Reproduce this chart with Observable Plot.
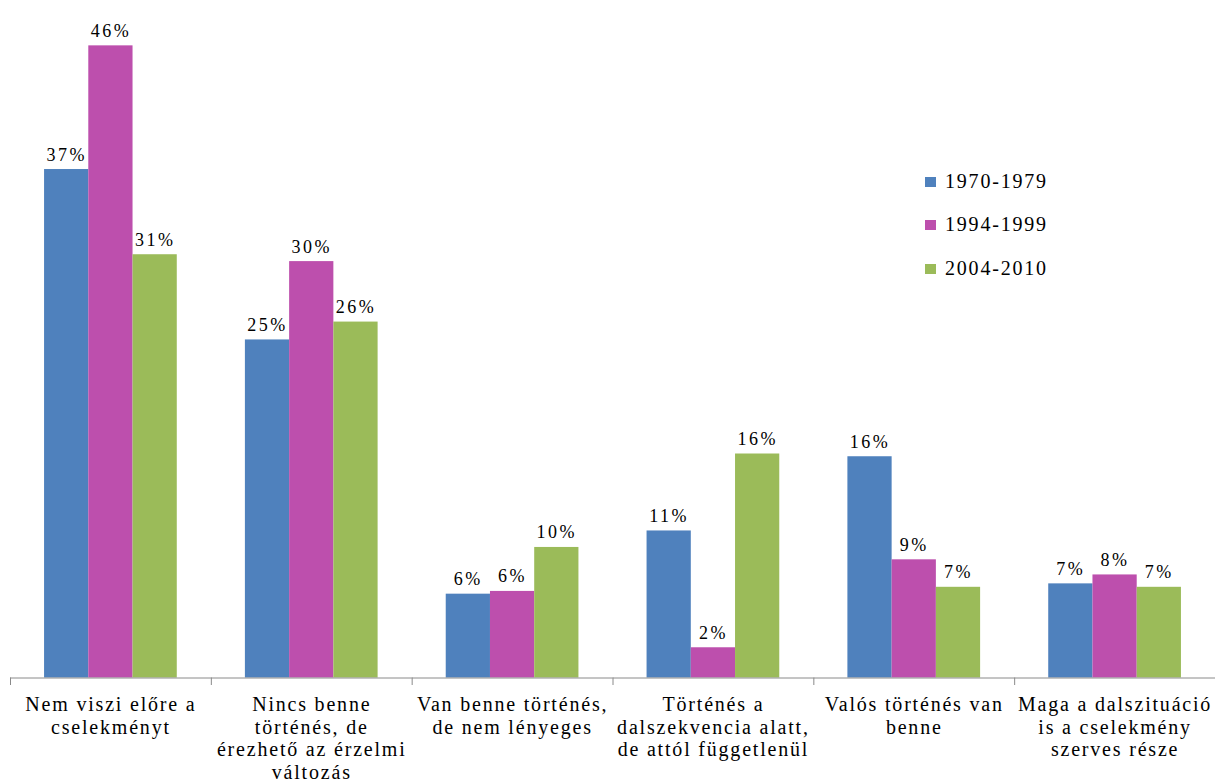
<!DOCTYPE html>
<html>
<head>
<meta charset="utf-8">
<script src="https://cdn.jsdelivr.net/npm/d3@7"></script>
<script src="https://cdn.jsdelivr.net/npm/@observablehq/plot@0.6"></script>
<style>
  html, body { margin: 0; padding: 0; background: #fff; }
  #wrap { position: relative; width: 1216px; height: 781px; overflow: hidden; }
  #wrap svg, #wrap svg text { font-family: "Liberation Serif", "Times New Roman", serif !important; }
  #legend { position: absolute; left: 925px; top: 160px; font-family: "Liberation Serif", "Times New Roman", serif; font-size: 20px; letter-spacing: 1.8px; color: #000; }
  #legend .row { height: 43.3px; line-height: 43.3px; white-space: nowrap; }
  #legend .sw { display: inline-block; width: 11px; height: 10px; margin-right: 9px; vertical-align: baseline; margin-bottom: 1px; }
</style>
</head>
<body>
<div id="wrap"></div>
<script>
const categories = ["c1", "c2", "c3", "c4", "c5", "c6"];
const categoryLabels = [
  "Nem viszi előre a\ncselekményt",
  "Nincs benne\ntörténés, de\nérezhető az érzelmi\nváltozás",
  "Van benne történés,\nde nem lényeges",
  "Történés a\ndalszekvencia alatt,\nde attól függetlenül",
  "Valós történés van\nbenne",
  "Maga a dalszituáció\nis a cselekmény\nszerves része"
];
const series = ["1970-1979", "1994-1999", "2004-2010"];
const colors = ["#4F81BD", "#BD4FAD", "#9BBB59"];
const values1970 = [37.0, 24.6, 6.1, 10.7, 16.1, 6.85];
const values1994 = [46.0, 30.3, 6.3, 2.2, 8.6, 7.5];
const values2004 = [30.8, 25.9, 9.5, 16.3, 6.6, 6.6];

const seriesValues = [values1970, values1994, values2004];
const data = [];
categories.forEach((c, i) => {
  series.forEach((s, j) => data.push({cat: c, series: s, value: seriesValues[j][i]}));
});
const labelOf = Object.fromEntries(categories.map((c, i) => [c, categoryLabels[i]]));
const serifFont = "'Liberation Serif', 'Times New Roman', serif";

const chart = Plot.plot({
  width: 1216,
  height: 781,
  marginLeft: 10,
  marginRight: 1,
  marginTop: 0,
  marginBottom: 103.5,
  style: {fontFamily: serifFont, background: "#fff"},
  fx: {domain: categories, padding: 0, round: false, axis: null},
  x: {domain: series, paddingInner: 0, paddingOuter: 0.77, round: false, axis: null},
  y: {domain: [0, 49.3], axis: null},
  color: {domain: series, range: colors},
  marks: [
    Plot.barY(data, {fx: "cat", x: "series", y: "value", fill: "series"}),
    Plot.ruleY([0], {stroke: "#8a8a8a", strokeWidth: 1}),
    Plot.frame({anchor: "left", stroke: "#8a8a8a", insetTop: 677.5, insetBottom: -6.5}),
    Plot.text(data, {
      fx: "cat", x: "series", y: "value",
      text: d => Math.round(d.value) + "%",
      lineAnchor: "bottom", dy: -9, fontSize: 18, fill: "#000", fontFamily: serifFont
    }),
    Plot.text(categories, {
      fx: d => d,
      text: d => labelOf[d],
      frameAnchor: "bottom", lineAnchor: "top", dy: 17,
      lineHeight: 1.13, fontSize: 20, fill: "#000", fontFamily: serifFont
    })
  ]
});

d3.select(chart).selectAll('g[font-size="18"] text').style("letter-spacing", "2.5px");
d3.select(chart).selectAll('g[font-size="20"] text').style("letter-spacing", "1.8px");

const wrap = document.getElementById("wrap");
wrap.appendChild(chart);

const legend = document.createElement("div");
legend.id = "legend";
series.forEach((s, i) => {
  const row = document.createElement("div");
  row.className = "row";
  const sw = document.createElement("span");
  sw.className = "sw";
  sw.style.background = colors[i];
  row.appendChild(sw);
  row.appendChild(document.createTextNode(s));
  legend.appendChild(row);
});
wrap.appendChild(legend);
</script>
</body>
</html>
